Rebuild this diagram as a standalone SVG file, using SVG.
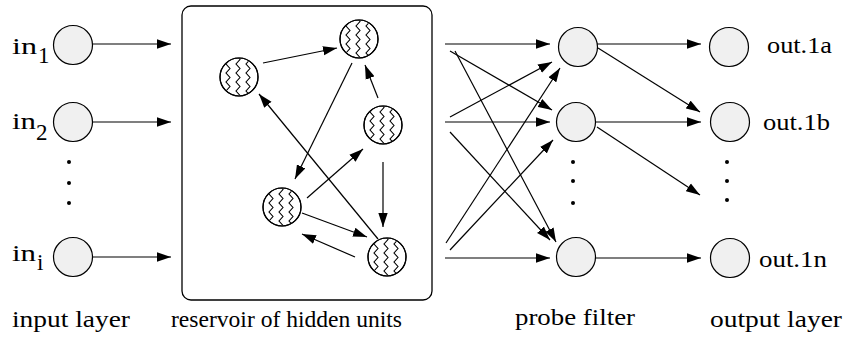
<svg xmlns="http://www.w3.org/2000/svg" width="844" height="337" viewBox="0 0 844 337">
<style>
.t{font-size:23px;fill:#000}
.node{fill:#f0f0f0;stroke:#000;stroke-width:1.2}
.res{fill:#fff;stroke:#000;stroke-width:1.2}
.wav{fill:none;stroke:#000;stroke-width:1.1}
.ln{stroke:#000;stroke-width:1.2;fill:none;marker-end:url(#ah)}
.dot{fill:#000}
</style>
<defs>
<marker id="ah" markerUnits="userSpaceOnUse" markerWidth="14" markerHeight="10" refX="12" refY="4" orient="auto" viewBox="0 0 12 8">
<path d="M0,0 L12,4 L0,8 Z" fill="#000"/>
</marker>
<clipPath id="cc"><circle cx="0" cy="0" r="18.5"/></clipPath>
<g id="hid">
<circle class="res" cx="0" cy="0" r="19"/>
<g clip-path="url(#cc)">
<path class="wav" d="M-13,-22 l4,4.5 l-4,4.5 l4,4.5 l-4,4.5 l4,4.5 l-4,4.5 l4,4.5 l-4,4.5 l4,4.5 l-4,4.5"/>
<path class="wav" d="M-3,-22 l4,4.5 l-4,4.5 l4,4.5 l-4,4.5 l4,4.5 l-4,4.5 l4,4.5 l-4,4.5 l4,4.5 l-4,4.5"/>
<path class="wav" d="M7,-22 l4,4.5 l-4,4.5 l4,4.5 l-4,4.5 l4,4.5 l-4,4.5 l4,4.5 l-4,4.5 l4,4.5 l-4,4.5"/>
</g>
<circle cx="0" cy="0" r="19" fill="none" stroke="#000" stroke-width="1.2"/>
</g>
</defs>

<rect id="reservoir" x="182" y="6" width="250" height="294" rx="9" fill="#fff" stroke="#000" stroke-width="1.3"/>

<g id="connectors">
<line class="ln" x1="93" y1="44" x2="171" y2="44"/>
<line class="ln" x1="93" y1="122" x2="171" y2="122"/>
<line class="ln" x1="93" y1="257" x2="171" y2="257"/>

<line class="ln" x1="263" y1="63" x2="337" y2="48"/>
<line class="ln" x1="352" y1="63" x2="295" y2="179"/>
<line class="ln" x1="378" y1="98" x2="365" y2="65"/>
<line class="ln" x1="383" y1="162" x2="383" y2="227"/>
<line class="ln" x1="307" y1="198" x2="363" y2="149"/>
<line class="ln" x1="302" y1="213" x2="367" y2="237"/>
<line class="ln" x1="355" y1="257" x2="302" y2="234"/>
<line class="ln" x1="378" y1="239" x2="259" y2="94"/>

<line class="ln" x1="445" y1="44" x2="550" y2="44"/>
<line class="ln" x1="445" y1="122" x2="550" y2="122"/>
<line class="ln" x1="445" y1="258" x2="550" y2="258"/>
<line class="ln" x1="450" y1="51" x2="552" y2="110"/>
<line class="ln" x1="455" y1="51" x2="556" y2="242"/>
<line class="ln" x1="450" y1="117" x2="552" y2="62"/>
<line class="ln" x1="450" y1="132" x2="550" y2="240"/>
<line class="ln" x1="446" y1="243" x2="560" y2="68"/>
<line class="ln" x1="450" y1="250" x2="553" y2="140"/>

<line class="ln" x1="597" y1="44" x2="701" y2="44"/>
<line class="ln" x1="598" y1="48" x2="700" y2="112"/>
<line class="ln" x1="595" y1="122" x2="701" y2="122"/>
<line class="ln" x1="597" y1="127" x2="700" y2="195"/>
<line class="ln" x1="595" y1="258" x2="701" y2="258"/>
</g>

<g font-family="Liberation Serif, DejaVu Serif, serif">
<g id="in1"><circle class="node" cx="73" cy="45" r="19.5"/><text class="t" x="12" y="54" textLength="25" lengthAdjust="spacingAndGlyphs">in</text><text class="t" x="38" y="63">1</text></g>
<g id="in2"><circle class="node" cx="73" cy="122" r="19.5"/><text class="t" x="12" y="129" textLength="24" lengthAdjust="spacingAndGlyphs">in</text><text class="t" x="36" y="140">2</text></g>
<g id="ini"><circle class="node" cx="73" cy="257" r="19.5"/><text class="t" x="12" y="261" textLength="24" lengthAdjust="spacingAndGlyphs">in</text><text class="t" x="37" y="270">i</text></g>
<g id="in-dots"><circle class="dot" cx="69" cy="162" r="2"/><circle class="dot" cx="69" cy="183" r="2"/><circle class="dot" cx="69" cy="203" r="2"/></g>

<g id="h1"><use href="#hid" x="239" y="77"/></g>
<g id="h2"><use href="#hid" x="359" y="39"/></g>
<g id="h3"><use href="#hid" x="383" y="125"/></g>
<g id="h4"><use href="#hid" x="282" y="207"/></g>
<g id="h5"><use href="#hid" x="387" y="257"/></g>

<g id="p1"><circle class="node" cx="578" cy="47" r="19.5"/></g>
<g id="p2"><circle class="node" cx="576" cy="122" r="19.5"/></g>
<g id="p3"><circle class="node" cx="576" cy="257" r="19.5"/></g>
<g id="p-dots"><circle class="dot" cx="573" cy="162" r="2"/><circle class="dot" cx="573" cy="181" r="2"/><circle class="dot" cx="573" cy="203" r="2"/></g>

<g id="o1"><circle class="node" cx="729" cy="47" r="19.5"/><text class="t" x="767" y="53" textLength="65" lengthAdjust="spacingAndGlyphs">out.1a</text></g>
<g id="o2"><circle class="node" cx="730" cy="122" r="19.5"/><text class="t" x="763" y="130" textLength="67" lengthAdjust="spacingAndGlyphs">out.1b</text></g>
<g id="o3"><circle class="node" cx="730" cy="258" r="19.5"/><text class="t" x="759" y="267" textLength="68" lengthAdjust="spacingAndGlyphs">out.1n</text></g>
<g id="o-dots"><circle class="dot" cx="727" cy="162" r="2"/><circle class="dot" cx="727" cy="181" r="2"/><circle class="dot" cx="727" cy="200" r="2"/></g>

<g id="captions">
<text class="t" x="12" y="327" textLength="118" lengthAdjust="spacingAndGlyphs">input layer</text>
<text class="t" x="171" y="327" textLength="231" lengthAdjust="spacingAndGlyphs">reservoir of hidden units</text>
<text class="t" x="515" y="325" textLength="120" lengthAdjust="spacingAndGlyphs">probe filter</text>
<text class="t" x="710" y="327" textLength="132" lengthAdjust="spacingAndGlyphs">output layer</text>
</g>
</g>
</svg>
